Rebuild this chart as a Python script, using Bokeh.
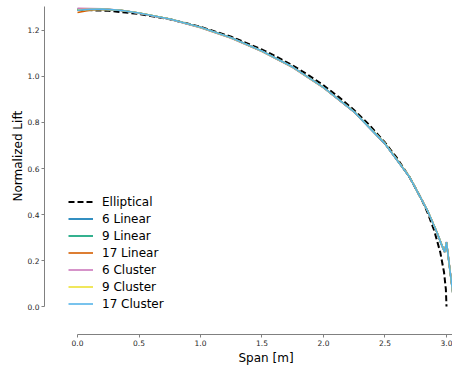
from bokeh.plotting import figure
from bokeh.models import Range1d, FixedTicker, Title, Legend, LegendItem, PrintfTickFormatter
from bokeh.embed import file_html
from bokeh.resources import INLINE

# ---- data ----
ell_x = [0.0, 0.25, 0.5, 0.75, 1.0, 1.25, 1.5, 1.625, 1.75, 1.875, 2.0, 2.125, 2.25, 2.375,
         2.5, 2.6, 2.7, 2.8, 2.85, 2.9, 2.95, 2.98, 2.995, 3.0]
ell_y = [1.290, 1.2855, 1.272, 1.249, 1.2162, 1.1727, 1.1172, 1.0844, 1.0478, 1.007, 0.9615,
         0.9106, 0.8533, 0.7881, 0.7131, 0.6436, 0.5623, 0.4631, 0.4028, 0.3303, 0.2345,
         0.1487, 0.0744, 0.0]

span_x = [0.0, 0.1, 0.2, 0.35, 0.5, 0.75, 1.0, 1.25, 1.5, 1.75, 2.0, 2.25, 2.5, 2.7, 2.85,
          2.92, 2.96, 2.985, 3.0, 3.03, 3.065]
lin6 = [1.292, 1.293, 1.293, 1.287, 1.275, 1.249, 1.213, 1.167, 1.110, 1.040, 0.952, 0.845,
        0.707, 0.562, 0.411, 0.326, 0.270, 0.238, 0.278, 0.148, 0.0]
lin9 = [1.291, 1.293, 1.293, 1.288, 1.276, 1.250, 1.214, 1.168, 1.110, 1.041, 0.953, 0.846,
        0.708, 0.563, 0.412, 0.325, 0.269, 0.237, 0.279, 0.149, 0.0]
lin17 = [1.278, 1.288, 1.292, 1.288, 1.276, 1.250, 1.214, 1.168, 1.111, 1.041, 0.953, 0.846,
         0.708, 0.563, 0.412, 0.325, 0.268, 0.236, 0.280, 0.150, 0.0]
clu6 = [1.296, 1.295, 1.294, 1.288, 1.275, 1.249, 1.212, 1.166, 1.109, 1.039, 0.951, 0.845,
        0.708, 0.564, 0.413, 0.326, 0.269, 0.236, 0.281, 0.151, 0.0]
clu9 = [1.290, 1.292, 1.293, 1.288, 1.276, 1.250, 1.213, 1.167, 1.110, 1.040, 0.952, 0.846,
        0.709, 0.564, 0.413, 0.326, 0.269, 0.237, 0.280, 0.150, 0.0]
clu17 = [1.288, 1.292, 1.293, 1.288, 1.276, 1.250, 1.214, 1.168, 1.111, 1.041, 0.953, 0.846,
         0.708, 0.563, 0.412, 0.325, 0.268, 0.236, 0.280, 0.150, 0.0]

series_names = ["6 Linear", "9 Linear", "17 Linear", "6 Cluster", "9 Cluster", "17 Cluster"]
series_vals = [lin6, lin9, lin17, clu6, clu9, clu17]
series_colors = ["#0173b2", "#029e73", "#d55e00", "#cc78bc", "#ece133", "#56b4e9"]

x_ticks = [0.0, 0.5, 1.0, 1.5, 2.0, 2.5, 3.0]
y_ticks = [0.0, 0.2, 0.4, 0.6, 0.8, 1.0, 1.2]
x_label = "Span [m]"
y_label = "Normalized Lift"

FONT = "DejaVu Sans"

p = figure(width=452, height=369, output_backend="svg", toolbar_location=None,
           x_range=Range1d(-0.2683, 3.0488), y_range=Range1d(-0.1217, 1.3304),
           min_border_left=44, min_border_right=0, min_border_top=0, min_border_bottom=35)
p.outline_line_color = None
p.grid.visible = False
p.background_fill_color = "white"
p.border_fill_color = "white"

items = []
r = p.line(ell_x, ell_y, line_color="black", line_width=2, line_dash="6 3")
items.append(LegendItem(label="Elliptical", renderers=[r]))
for name, vals, col in zip(series_names, series_vals, series_colors):
    r = p.line(span_x, vals, line_color=col, line_width=1.6)
    items.append(LegendItem(label=name, renderers=[r]))

legend = Legend(items=items, location=(24, 22), padding=0, margin=0,
                glyph_width=25, glyph_height=17, label_height=17, spacing=0,
                label_standoff=9, border_line_color=None, background_fill_alpha=0,
                label_text_font=FONT, label_text_font_size="12px", label_text_color="#000000")
p.add_layout(legend)

for ax in (p.xaxis[0], p.yaxis[0]):
    ax.axis_line_color = "#808080"
    ax.axis_line_width = 1
    ax.major_tick_line_color = "#808080"
    ax.major_tick_out = 3
    ax.major_tick_in = 0
    ax.minor_tick_out = 0
    ax.minor_tick_in = 0
    ax.major_label_text_font = FONT
    ax.major_label_text_font_size = "7.5px"
    ax.major_label_text_color = "#262626"
    ax.major_label_standoff = 2
    ax.formatter = PrintfTickFormatter(format="%.1f")

p.xaxis[0].ticker = FixedTicker(ticks=x_ticks)
p.yaxis[0].ticker = FixedTicker(ticks=y_ticks)
p.xaxis[0].bounds = (0.0, 3.1)
p.yaxis[0].bounds = (0.0, 1.304)

p.add_layout(Title(text=x_label, align="left", offset=194, text_font=FONT,
                   text_font_size="12px", text_font_style="normal", text_color="#000000",
                   standoff=0), "below")
p.add_layout(Title(text=y_label, align="left", offset=133, text_font=FONT,
                   text_font_size="12px", text_font_style="normal", text_color="#000000",
                   standoff=0), "left")

open("out.html", "w").write(file_html(p, INLINE))
